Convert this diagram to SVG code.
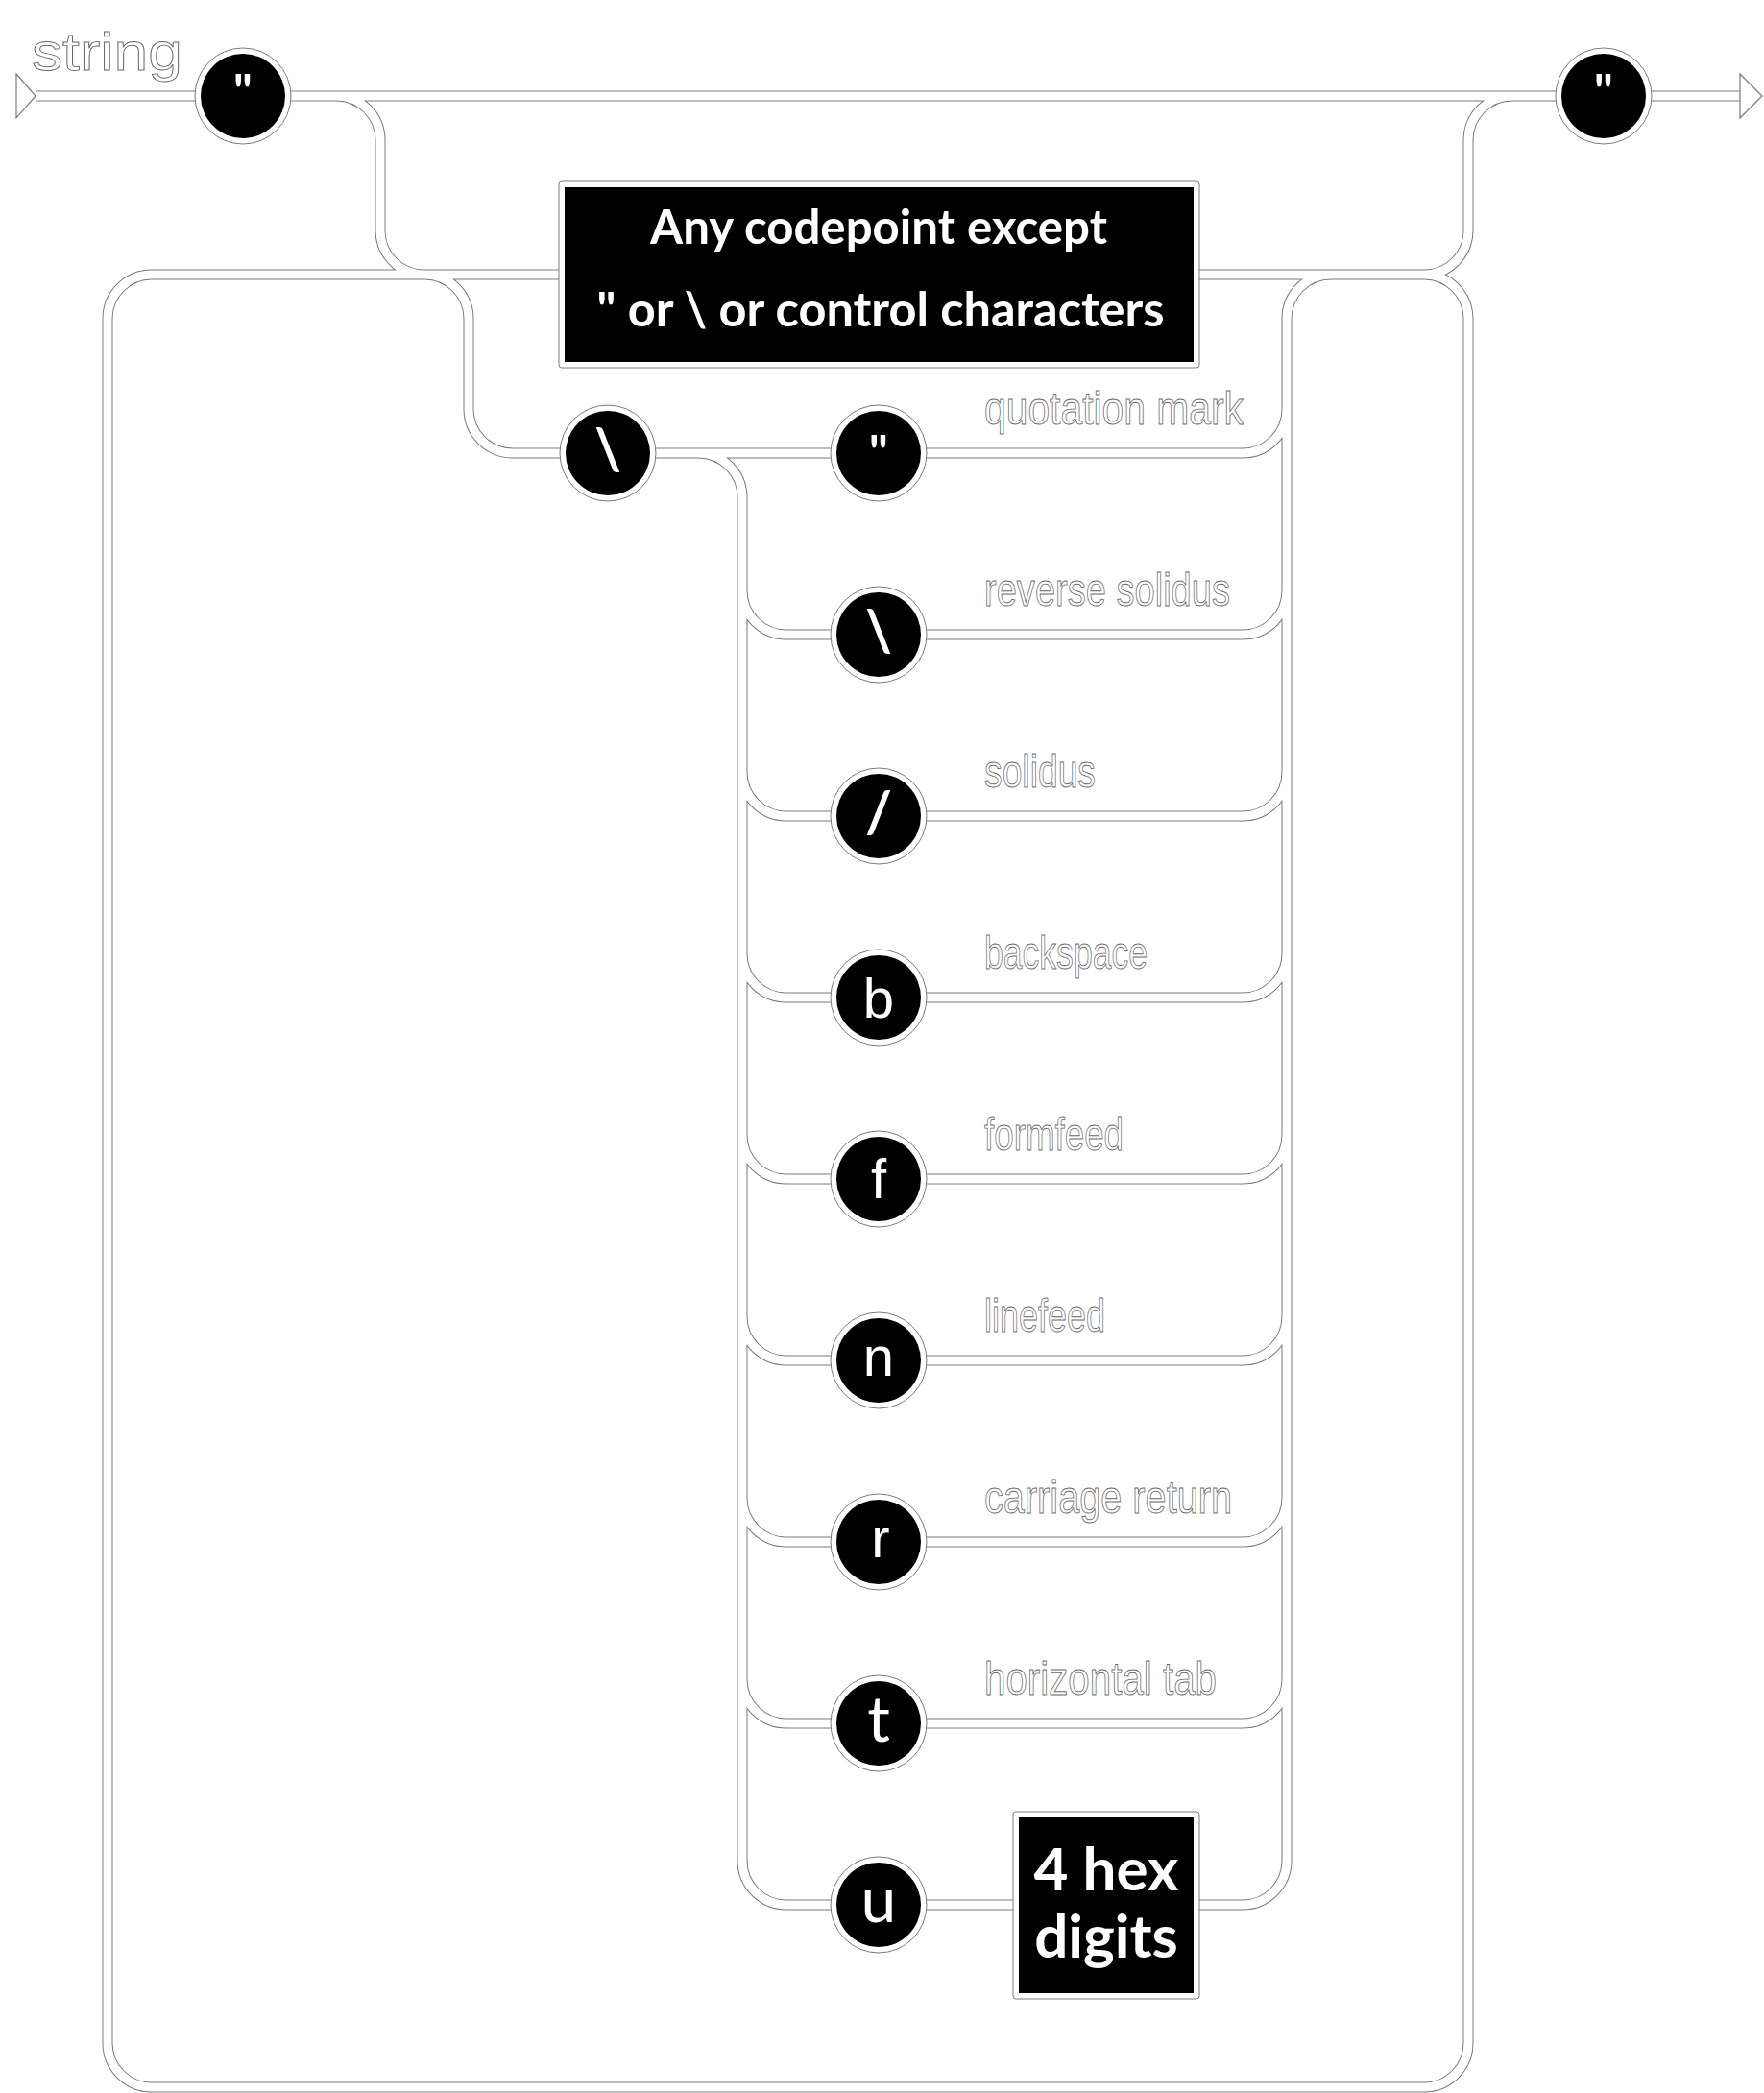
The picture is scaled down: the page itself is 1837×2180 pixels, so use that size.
<svg xmlns="http://www.w3.org/2000/svg" xmlns:xlink="http://www.w3.org/1999/xlink" width="1837" height="2180" viewBox="0 0 1837 2180">
<style>
.edge{fill:none;stroke:#7a7a7a;stroke-width:11}
.core{fill:none;stroke:#ffffff;stroke-width:9}
.ring{fill:#ffffff;stroke:#7a7a7a;stroke-width:1}
.disc{fill:#000000}
.frame{fill:#ffffff;stroke:#7a7a7a;stroke-width:1}
.blk{fill:#000000}
.tri{fill:#ffffff;stroke:#7a7a7a;stroke-width:1.2}
.lbl{font-family:"Liberation Sans",Arial,sans-serif;font-size:48px;fill:#ffffff;stroke:#6a6a6a;stroke-width:0.9}
.boxt{font-family:Lato,"Open Sans",sans-serif;font-weight:bold;fill:#ffffff;text-anchor:middle}
.glb{font-family:Lato,"Open Sans",sans-serif;font-weight:bold;fill:#ffffff;text-anchor:middle}
.gll{font-family:Lato,"Open Sans",sans-serif;fill:#ffffff;text-anchor:middle;font-size:66px}
.gla{font-family:"Liberation Sans",Arial,sans-serif;fill:#ffffff;text-anchor:middle;font-size:58px}
</style>
<defs>
<path id="wires" d="M37 100 H1812
M350 100 A46 46 0 0 1 396 146 V240 A46 46 0 0 0 442 286
M1483 286 A46 46 0 0 0 1529 240 V146 A46 46 0 0 1 1575 100
M158 286 H1483
M158 286 A46 46 0 0 0 112 332 V2128 A46 46 0 0 0 158 2174 H1483 A46 46 0 0 0 1529 2128 V332 A46 46 0 0 0 1483 286
M442 286 A46 46 0 0 1 488 332 V426 A46 46 0 0 0 534 472 H1294 A46 46 0 0 0 1340 426 V332 A46 46 0 0 1 1386 286
M727 472 A46 46 0 0 1 773 518 V1938
M1340 426 V1938
M773 615 A46 46 0 0 0 819 661 H1294 A46 46 0 0 0 1340 615
M773 804 A46 46 0 0 0 819 850 H1294 A46 46 0 0 0 1340 804
M773 993 A46 46 0 0 0 819 1039 H1294 A46 46 0 0 0 1340 993
M773 1182 A46 46 0 0 0 819 1228 H1294 A46 46 0 0 0 1340 1182
M773 1371 A46 46 0 0 0 819 1417 H1294 A46 46 0 0 0 1340 1371
M773 1560 A46 46 0 0 0 819 1606 H1294 A46 46 0 0 0 1340 1560
M773 1749 A46 46 0 0 0 819 1795 H1294 A46 46 0 0 0 1340 1749
M773 1938 A46 46 0 0 0 819 1984 H1294 A46 46 0 0 0 1340 1938"/>
</defs>
<rect x="0" y="0" width="1837" height="2180" fill="#ffffff"/>
<g id="connectors">
<use xlink:href="#wires" href="#wires" class="edge"/>
<use xlink:href="#wires" href="#wires" class="core"/>
</g>
<g id="start">
<polygon class="tri" points="17,77 37,100 17,123"/>
<text class="lbl" x="33" y="73" font-size="56" style="font-size:56px" textLength="157" lengthAdjust="spacingAndGlyphs">string</text>
</g>
<g id="end">
<polygon class="tri" points="1812,77 1835,100 1812,123"/>
</g>
<g id="open-quote">
<circle class="ring" cx="253" cy="100" r="50"/>
<circle class="disc" cx="253" cy="100" r="44"/>
<text class="glb" x="253" y="113" font-size="50">"</text>
</g>
<g id="close-quote">
<circle class="ring" cx="1670" cy="100" r="50"/>
<circle class="disc" cx="1670" cy="100" r="44"/>
<text class="glb" x="1670" y="113" font-size="50">"</text>
</g>
<g id="any-codepoint">
<rect class="frame" x="582" y="189" width="667" height="194" rx="3"/>
<rect class="blk" x="588" y="195" width="655" height="182"/>
<text class="boxt" x="915" y="254" font-size="50" textLength="476" lengthAdjust="spacingAndGlyphs">Any codepoint except</text>
<text class="boxt" x="917" y="340" font-size="50" textLength="591" lengthAdjust="spacingAndGlyphs">" or \ or control characters</text>
</g>
<g id="escape">
<circle class="ring" cx="633" cy="472" r="50"/>
<circle class="disc" cx="633" cy="472" r="44"/>
<text class="glb" x="633" y="489" font-size="60">\</text>
</g>
<g id="esc-quote">
<circle class="ring" cx="915" cy="472" r="50"/>
<circle class="disc" cx="915" cy="472" r="44"/>
<text class="glb" x="915" y="489" font-size="50">"</text>
<text class="lbl" x="1025" y="442" textLength="270" lengthAdjust="spacingAndGlyphs">quotation mark</text>
</g>
<g id="esc-backslash">
<circle class="ring" cx="915" cy="661" r="50"/>
<circle class="disc" cx="915" cy="661" r="44"/>
<text class="glb" x="915" y="678" font-size="60">\</text>
<text class="lbl" x="1025" y="631" textLength="256" lengthAdjust="spacingAndGlyphs">reverse solidus</text>
</g>
<g id="esc-solidus">
<circle class="ring" cx="915" cy="850" r="50"/>
<circle class="disc" cx="915" cy="850" r="44"/>
<text class="glb" x="915" y="867" font-size="60">/</text>
<text class="lbl" x="1025" y="820" textLength="116" lengthAdjust="spacingAndGlyphs">solidus</text>
</g>
<g id="esc-b">
<circle class="ring" cx="915" cy="1039" r="50"/>
<circle class="disc" cx="915" cy="1039" r="44"/>
<text class="gla" x="915" y="1060">b</text>
<text class="lbl" x="1025" y="1009" textLength="170" lengthAdjust="spacingAndGlyphs">backspace</text>
</g>
<g id="esc-f">
<circle class="ring" cx="915" cy="1228" r="50"/>
<circle class="disc" cx="915" cy="1228" r="44"/>
<text class="gla" x="915" y="1248">f</text>
<text class="lbl" x="1025" y="1198" textLength="145" lengthAdjust="spacingAndGlyphs">formfeed</text>
</g>
<g id="esc-n">
<circle class="ring" cx="915" cy="1417" r="50"/>
<circle class="disc" cx="915" cy="1417" r="44"/>
<text class="gla" x="915" y="1433">n</text>
<text class="lbl" x="1025" y="1387" textLength="126" lengthAdjust="spacingAndGlyphs">linefeed</text>
</g>
<g id="esc-r">
<circle class="ring" cx="915" cy="1606" r="50"/>
<circle class="disc" cx="915" cy="1606" r="44"/>
<text class="gla" x="917" y="1622">r</text>
<text class="lbl" x="1025" y="1576" textLength="258" lengthAdjust="spacingAndGlyphs">carriage return</text>
</g>
<g id="esc-t">
<circle class="ring" cx="915" cy="1795" r="50"/>
<circle class="disc" cx="915" cy="1795" r="44"/>
<text class="gll" x="915" y="1814">t</text>
<text class="lbl" x="1025" y="1765" textLength="242" lengthAdjust="spacingAndGlyphs">horizontal tab</text>
</g>
<g id="esc-u">
<circle class="ring" cx="915" cy="1984" r="50"/>
<circle class="disc" cx="915" cy="1984" r="44"/>
<text class="gll" x="915" y="2002">u</text>
</g>
<g id="hex-digits">
<rect class="frame" x="1055" y="1887" width="194" height="195" rx="3"/>
<rect class="blk" x="1061" y="1893" width="182" height="183"/>
<text class="boxt" x="1152" y="1969" font-size="62">4 hex</text>
<text class="boxt" x="1152" y="2039" font-size="62">digits</text>
</g>
</svg>
